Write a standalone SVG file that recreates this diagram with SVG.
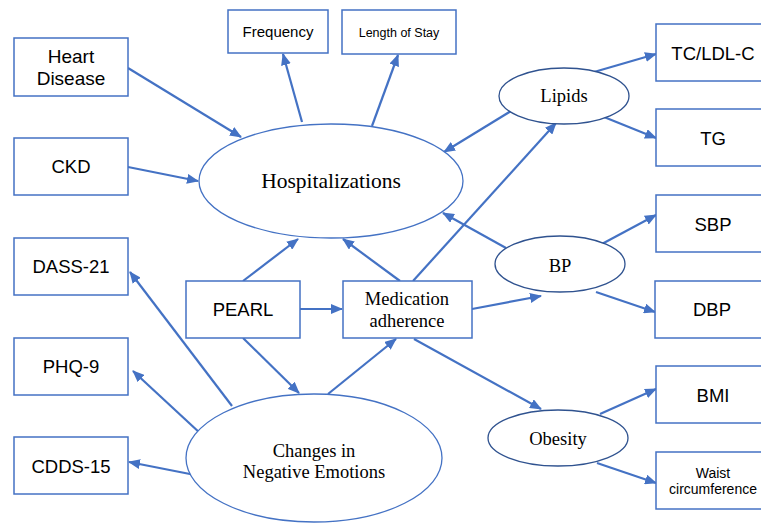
<svg xmlns="http://www.w3.org/2000/svg" width="761" height="524" viewBox="0 0 761 524">
<style>
.box{fill:#fff;stroke:#4472C4;stroke-width:1.5}
.ell{fill:#fff;stroke:#4472C4;stroke-width:1.3}
.ell2{fill:#fff;stroke:#2F528F;stroke-width:1.3}
.a{font-family:"Liberation Sans",Arial,sans-serif;fill:#000;text-anchor:middle}
.t{font-family:"Liberation Serif","Times New Roman",serif;fill:#000;text-anchor:middle}
#conn line{stroke:#4472C4;stroke-width:2.2;marker-end:url(#ah)}
</style>
<defs>
<marker id="ah" markerUnits="userSpaceOnUse" markerWidth="12" markerHeight="10" refX="11" refY="5" orient="auto">
<path d="M0,0 L12,5 L0,10 Z" fill="#4472C4"/>
</marker>
</defs>
<rect width="761" height="524" fill="#fff"/>
<g id="conn">
<line x1="128" y1="68" x2="241" y2="137"/>
<line x1="128" y1="167" x2="198" y2="181"/>
<line x1="302" y1="122" x2="283" y2="54"/>
<line x1="372" y1="126" x2="398" y2="55"/>
<line x1="511" y1="111" x2="444" y2="152"/>
<line x1="594" y1="72" x2="656" y2="54"/>
<line x1="604" y1="117" x2="656" y2="138"/>
<line x1="600" y1="245" x2="656" y2="215"/>
<line x1="506" y1="248" x2="443" y2="213"/>
<line x1="596" y1="292" x2="655" y2="312"/>
<line x1="472" y1="309" x2="541" y2="296"/>
<line x1="413" y1="281" x2="556" y2="123"/>
<line x1="400" y1="281" x2="343" y2="239"/>
<line x1="243" y1="281" x2="298" y2="239"/>
<line x1="300" y1="309" x2="342" y2="309"/>
<line x1="243" y1="338" x2="299" y2="393"/>
<line x1="328" y1="394" x2="396" y2="339"/>
<line x1="232" y1="406" x2="130" y2="272"/>
<line x1="201" y1="434" x2="133" y2="371"/>
<line x1="195" y1="475" x2="129" y2="462"/>
<line x1="414" y1="339" x2="541" y2="409"/>
<line x1="600" y1="414" x2="656" y2="389"/>
<line x1="597" y1="463" x2="656" y2="483"/>
</g>
<g id="heart"><rect class="box" x="14" y="38" width="114" height="58"/><text class="a" x="71" y="63" font-size="19">Heart</text><text class="a" x="71" y="85" font-size="19">Disease</text></g>
<g id="ckd"><rect class="box" x="14" y="138" width="114" height="57"/><text class="a" x="71" y="173" font-size="18.5">CKD</text></g>
<g id="freq"><rect class="box" x="228" y="10" width="100" height="43"/><text class="a" x="278" y="37" font-size="15">Frequency</text></g>
<g id="los"><rect class="box" x="342" y="10" width="114" height="44"/><text class="a" x="399" y="37" font-size="12.5">Length of Stay</text></g>
<g id="hosp"><ellipse class="ell" cx="331" cy="181" rx="132" ry="57"/><text class="t" x="331" y="188" font-size="21.5">Hospitalizations</text></g>
<g id="lipids"><ellipse class="ell2" cx="564" cy="96" rx="65" ry="28"/><text class="t" x="564" y="102" font-size="18.5">Lipids</text></g>
<g id="tcldl"><rect class="box" x="656" y="24" width="114" height="57"/><text class="a" x="713" y="60" font-size="18.5">TC/LDL-C</text></g>
<g id="tg"><rect class="box" x="656" y="109" width="114" height="57"/><text class="a" x="713" y="145" font-size="18.5">TG</text></g>
<g id="sbp"><rect class="box" x="656" y="195" width="114" height="57"/><text class="a" x="713" y="231" font-size="18.5">SBP</text></g>
<g id="bp"><ellipse class="ell2" cx="560" cy="264" rx="65" ry="28"/><text class="t" x="560" y="272" font-size="18.5">BP</text></g>
<g id="dbp"><rect class="box" x="655" y="281" width="114" height="57"/><text class="a" x="712" y="316" font-size="18.5">DBP</text></g>
<g id="bmi"><rect class="box" x="656" y="366" width="114" height="57"/><text class="a" x="713" y="402" font-size="18.5">BMI</text></g>
<g id="waist"><rect class="box" x="656" y="452" width="114" height="57"/><text class="a" x="713" y="478" font-size="14">Waist</text><text class="a" x="713" y="494" font-size="14">circumference</text></g>
<g id="obesity"><ellipse class="ell2" cx="558" cy="438" rx="70" ry="28"/><text class="t" x="558" y="445" font-size="18.5">Obesity</text></g>
<g id="dass"><rect class="box" x="14" y="238" width="114" height="57"/><text class="a" x="71" y="273" font-size="18.5">DASS-21</text></g>
<g id="phq"><rect class="box" x="14" y="338" width="114" height="57"/><text class="a" x="71" y="373" font-size="18.5">PHQ-9</text></g>
<g id="cdds"><rect class="box" x="14" y="437" width="114" height="57"/><text class="a" x="71" y="473" font-size="18.5">CDDS-15</text></g>
<g id="pearl"><rect class="box" x="186" y="281" width="114" height="57"/><text class="a" x="243" y="316" font-size="18.5">PEARL</text></g>
<g id="med"><rect class="box" x="343" y="281" width="129" height="57"/><text class="t" x="407" y="305" font-size="18.5">Medication</text><text class="t" x="407" y="327" font-size="18.5">adherence</text></g>
<g id="changes"><ellipse class="ell" cx="314" cy="458" rx="128" ry="64"/><text class="t" x="314" y="457" font-size="18.5">Changes in</text><text class="t" x="314" y="478" font-size="18.5">Negative Emotions</text></g>
</svg>
